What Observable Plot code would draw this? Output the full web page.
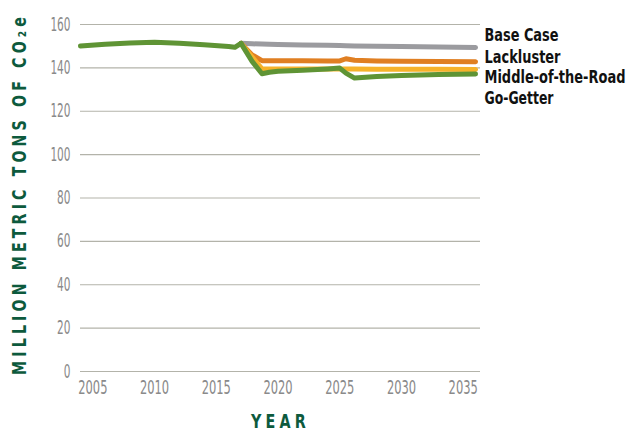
<!DOCTYPE html>
<html><head><meta charset="utf-8">
<script src="https://cdn.jsdelivr.net/npm/d3@7"></script>
<script src="https://cdn.jsdelivr.net/npm/@observablehq/plot@0.6"></script>
<style>
body{margin:0;background:#fff;}
svg{font-family:"DejaVu Sans Condensed","DejaVu Sans",sans-serif;font-stretch:condensed;}
</style></head><body><div id="chart"></div>
<script>
const historyYears  = [2004, 2006, 2008, 2010, 2012, 2014, 2016, 2016.5, 2017];
const historyValues = [150.1, 150.9, 151.5, 151.8, 151.4, 150.7, 149.9, 149.5, 151.3];

const scenarioYears = [2017, 2017.9, 2018.7, 2019.3, 2020, 2022, 2024, 2025, 2025.5, 2026.2, 2028, 2030, 2033, 2036];
const baseCase   = [151.3, 151.1, 151.0, 150.9, 150.8, 150.6, 150.4, 150.3, 150.2, 150.1, 150.0, 149.8, 149.6, 149.4];
const lackluster = [151.3, 146.0, 143.3, 143.3, 143.3, 143.3, 143.2, 143.2, 144.2, 143.5, 143.2, 143.1, 142.9, 142.8];
const middleRoad = [151.3, 145.0, 139.6, 139.5, 139.5, 139.5, 139.5, 139.5, 139.5, 139.5, 139.4, 139.4, 139.4, 139.3];
const goGetter   = [151.3, 143.0, 137.3, 138.0, 138.4, 138.9, 139.5, 139.9, 137.6, 135.3, 136.0, 136.5, 136.9, 137.2];

const seriesNames  = ["Base Case", "Lackluster", "Middle-of-the-Road", "Go-Getter"];
const seriesColors = ["#9b9b9f", "#e07f22", "#f6b22a", "#5f9435"];
const xTicks = [2005, 2010, 2015, 2020, 2025, 2030, 2035];
const yTicks = [0, 20, 40, 60, 80, 100, 120, 140, 160];
const yTitle = "MILLION METRIC TONS OF CO₂e";
const xTitle = "YEAR";

const seriesValues = [baseCase, lackluster, middleRoad, goGetter];
const rows = [];
seriesNames.forEach((name, i) => {
  scenarioYears.forEach((yr, j) => rows.push({series: name, year: yr, value: seriesValues[i][j]}));
});
const history = historyYears.map((yr, j) => ({series: "Go-Getter", year: yr, value: historyValues[j]}));

const green = "#0d5a3d";
const labelDy = [11, 33, 53.5, 74];
const labelWidths = [74, 76, 141, 69];

const chart = Plot.plot({
  width: 628, height: 432,
  marginLeft: 80, marginRight: 148, marginTop: 24, marginBottom: 61,
  x: {domain: [2004, 2036.4], ticks: xTicks, tickFormat: "d", label: null},
  y: {domain: [0, 160], ticks: yTicks, label: null},
  color: {domain: seriesNames, range: seriesColors},
  style: {background: "#fff", overflow: "visible"},
  marks: [
    Plot.ruleY(yTicks, {stroke: "#b3b3aa", strokeWidth: 1.2}),
    Plot.axisY({ticks: yTicks, tickSize: 0, tickPadding: 10, fontSize: 19, fill: "#8a8a8a", label: null}),
    Plot.axisX({ticks: xTicks, tickSize: 0, tickPadding: 8, fontSize: 20, fill: "#8a8a8a", tickFormat: "d", label: null}),
    Plot.line(rows, {x: "year", y: "value", z: "series", stroke: "series", strokeWidth: 5, strokeLinejoin: "round", strokeLinecap: "round"}),
    Plot.line(history, {x: "year", y: "value", stroke: "series", strokeWidth: 5, strokeLinejoin: "round", strokeLinecap: "round"}),
    ...seriesNames.map((name, i) => Plot.text([name], {frameAnchor: "top-right", textAnchor: "start", lineAnchor: "middle", dx: 4, dy: labelDy[i], fontSize: 17, fontWeight: "bold", fill: "#111"})),
    Plot.text([yTitle], {frameAnchor: "left", dx: -61, dy: -4, rotate: -90, textAnchor: "middle", lineAnchor: "middle", fontSize: 19, fontWeight: "bold", fill: green}),
    Plot.text([xTitle], {frameAnchor: "bottom", dy: 50, textAnchor: "middle", lineAnchor: "middle", fontSize: 19, fontWeight: "bold", fill: green})
  ]
});
document.getElementById("chart").appendChild(chart);

const svg = d3.select(chart);
svg.selectAll("text").each(function() {
  const t = this.textContent;
  if (t === yTitle || t === xTitle) this.style.letterSpacing = "5px";
});
function squeeze(el, w) {
  const natural = el.getComputedTextLength();
  if (!natural) return;
  const s = w / natural;
  const xa = el.getAttribute("x");
  const x = xa !== null && isFinite(+xa) ? +xa : 0;
  if (xa !== null && isFinite(+xa)) el.removeAttribute("x");
  const tr = el.getAttribute("transform") || "";
  el.setAttribute("transform", `${tr} translate(${x},0) scale(${s},1)`);
}
svg.selectAll("g[aria-label='y-axis tick label'] text").each(function() { squeeze(this, 6.7 * this.textContent.length); });
svg.selectAll("g[aria-label='x-axis tick label'] text").each(function() { squeeze(this, 7.3 * this.textContent.length); });
svg.selectAll("text").each(function() {
  const t = this.textContent;
  const k = seriesNames.indexOf(t);
  if (k >= 0) squeeze(this, labelWidths[k]);
  if (t === yTitle) squeeze(this, 362);
  if (t === xTitle) squeeze(this, 59);
});
</script></body></html>
